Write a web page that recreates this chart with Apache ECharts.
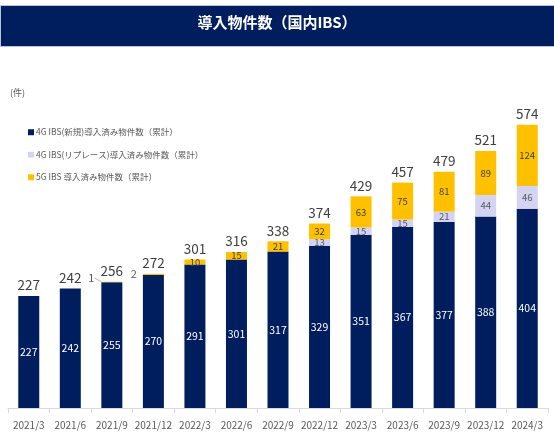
<!DOCTYPE html>
<html lang="ja" style="height: 100%">
<head>
  <meta charset="utf-8">
  <script src="https://cdn.jsdelivr.net/npm/echarts/dist/echarts.min.js"></script>
</head>
<body style="height: 100%; margin: 0; background: #fff">
  <div id="container" style="width: 554px; height: 436px"></div>

  <script type="text/javascript">
    // 四半期ごとの累計件数
    var categories = ['2021/3', '2021/6', '2021/9', '2021/12', '2022/3', '2022/6', '2022/9',
      '2022/12', '2023/3', '2023/6', '2023/9', '2023/12', '2024/3'];
    var newIbs = [227, 242, 255, 270, 291, 301, 317, 329, 351, 367, 377, 388, 404];
    var replaceIbs = [0, 0, 0, 0, 0, 0, 0, 13, 15, 15, 21, 44, 46];
    var ibs5g = [0, 0, 1, 2, 10, 15, 21, 32, 63, 75, 81, 89, 124];
    var totals = [227, 242, 256, 272, 301, 316, 338, 374, 429, 457, 479, 521, 574];

    var seriesNames = [
      '4G IBS(新規)導入済み物件数（累計）',
      '4G IBS(リプレース)導入済み物件数（累計）',
      '5G IBS 導入済み物件数（累計）'
    ];

    var font = '"Noto Sans CJK JP", "Noto Sans", sans-serif';

    var dom = document.getElementById('container');
    var myChart = echarts.init(dom, null, { renderer: 'canvas' });

    function hideZero(p) {
      return p.value ? p.value : '';
    }

    // 5G の小さい値はバーの左側に表示（1 件のときは引き出し線つき）
    var yellowData = ibs5g.map(function (v) {
      if (v > 0 && v < 5) {
        return {
          value: v,
          label: {
            position: 'left',
            distance: v === 1 ? 0 : 6,
            offset: v === 1 ? [0, 0] : [0, -5],
            color: '#595959',
            fontSize: 11
          },
          labelLine: {
            show: v === 1,
            lineStyle: { color: '#a6a6a6', width: 0.8 }
          }
        };
      }
      return v;
    });

    var option = {
      textStyle: { fontFamily: font },
      graphic: [
        {
          type: 'rect',
          left: 0,
          top: 5,
          shape: { width: 554, height: 41 },
          style: { fill: '#001e5e', stroke: '#b8c4dc', lineWidth: 1 },
          z: 0
        },
        {
          type: 'text',
          left: 'center',
          top: 15,
          style: {
            text: '導入物件数（国内IBS）',
            fill: '#ffffff',
            font: 'bold 15px ' + font
          },
          z: 1
        },
        {
          type: 'text',
          left: 10,
          top: 88,
          style: {
            text: '(件)',
            fill: '#595959',
            font: '9px ' + font
          }
        }
      ],
      legend: {
        data: seriesNames,
        orient: 'vertical',
        left: 23,
        top: 123,
        itemWidth: 6,
        itemHeight: 6,
        itemGap: 14,
        icon: 'rect',
        textStyle: { color: '#595959', fontSize: 8.5, fontFamily: font, padding: [0, 0, 0, -3] },
        selectedMode: false
      },
      grid: {
        left: 8,
        right: 6,
        top: 112,
        bottom: 28,
        containLabel: false
      },
      xAxis: {
        type: 'category',
        data: categories,
        axisLine: { lineStyle: { color: '#d9d9d9' } },
        axisTick: { show: true, length: 5, lineStyle: { color: '#d9d9d9' } },
        axisLabel: { color: '#595959', fontSize: 10, margin: 12, interval: 0, fontFamily: font }
      },
      yAxis: {
        type: 'value',
        min: 0,
        max: 600,
        show: false,
        splitLine: { show: false }
      },
      series: [
        {
          name: seriesNames[0],
          type: 'bar',
          stack: 'total',
          barWidth: 21,
          data: newIbs,
          itemStyle: { color: '#001e5e' },
          label: {
            show: true,
            position: 'inside',
            color: '#ffffff',
            fontSize: 10.5,
            formatter: hideZero
          }
        },
        {
          name: seriesNames[1],
          type: 'bar',
          stack: 'total',
          data: replaceIbs,
          itemStyle: { color: '#d4d4f2' },
          label: {
            show: true,
            position: 'inside',
            color: '#595959',
            fontSize: 9.5,
            formatter: hideZero
          }
        },
        {
          name: seriesNames[2],
          type: 'bar',
          stack: 'total',
          data: yellowData,
          itemStyle: { color: '#ffc000' },
          label: {
            show: true,
            position: 'inside',
            color: '#404040',
            fontSize: 9.5,
            formatter: hideZero
          },
          labelLayout: function (params) {
            if (ibs5g[params.dataIndex] === 1) {
              return { dx: -7, dy: -4 };
            }
            return {};
          }
        },
        {
          name: '合計',
          type: 'bar',
          stack: 'total',
          data: totals.map(function () { return 0; }),
          itemStyle: { color: 'transparent' },
          label: {
            show: true,
            position: 'top',
            distance: 4,
            color: '#404040',
            fontSize: 13.5,
            formatter: function (p) { return totals[p.dataIndex]; }
          }
        }
      ]
    };

    myChart.setOption(option);
    window.addEventListener('resize', myChart.resize);
  </script>
</body>
</html>
